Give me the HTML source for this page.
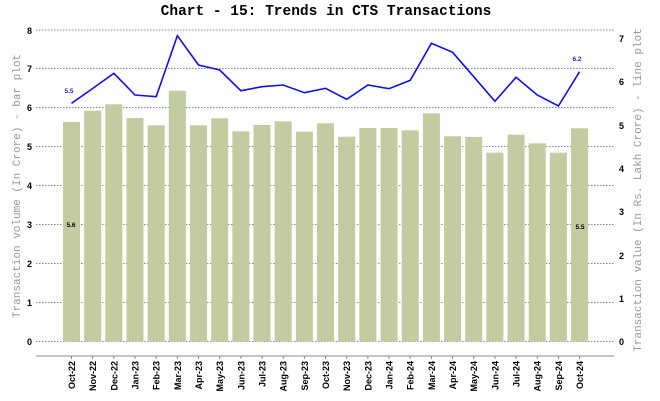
<!DOCTYPE html>
<html><head><style>body{margin:0;background:#fff}svg{display:block}</style></head><body>
<svg width="660" height="401" xmlns="http://www.w3.org/2000/svg">
<text x="326" y="15" text-anchor="middle" font-family="Liberation Mono, monospace" font-weight="bold" font-size="14.5">Chart - 15: Trends in CTS Transactions</text>
<g stroke="#888" stroke-dasharray="1.5,1.5" stroke-width="1">
<line x1="36" x2="614" y1="30" y2="30"/><line x1="36" x2="614" y1="68.5" y2="68.5"/><line x1="36" x2="614" y1="107.5" y2="107.5"/><line x1="36" x2="614" y1="146.5" y2="146.5"/><line x1="36" x2="614" y1="185.5" y2="185.5"/><line x1="36" x2="614" y1="224.5" y2="224.5"/><line x1="36" x2="614" y1="263.5" y2="263.5"/><line x1="36" x2="614" y1="302.5" y2="302.5"/><line x1="36" x2="614" y1="341.5" y2="341.5"/>
</g>
<g font-family="Liberation Sans, sans-serif" font-weight="bold" font-size="9" text-anchor="end">
<text x="32" y="34">8</text><text x="32" y="72">7</text><text x="32" y="111">6</text><text x="32" y="150">5</text><text x="32" y="189">4</text><text x="32" y="228">3</text><text x="32" y="267">2</text><text x="32" y="306">1</text><text x="32" y="345">0</text>
</g>
<g font-family="Liberation Sans, sans-serif" font-weight="bold" font-size="9">
<text x="619" y="42">7</text><text x="619" y="85">6</text><text x="619" y="129">5</text><text x="619" y="172">4</text><text x="619" y="215">3</text><text x="619" y="259">2</text><text x="619" y="302">1</text><text x="619" y="345">0</text>
</g>
<text transform="translate(20,186) rotate(-90)" text-anchor="middle" font-family="Liberation Mono, monospace" font-size="11" fill="#999">Transaction volume (In Crore) - bar plot</text>
<text transform="translate(641,190) rotate(-90)" text-anchor="middle" font-family="Liberation Mono, monospace" font-size="11" fill="#999">Transaction value (In Rs. Lakh Crore) - line plot</text>
<g fill="#c2cca0" id="bars"></g>
<line x1="36" x2="614" y1="356" y2="356" stroke="#888"/>
<g id="ticks" stroke="#888"></g>
<g id="xl" font-family="Liberation Sans, sans-serif" font-weight="bold" font-size="9"></g>
<polyline id="ln" fill="none" stroke="#1010f0" stroke-width="1.6"/>
<g font-family="Liberation Sans, sans-serif" font-weight="bold" font-size="6.5">
<text x="69" y="93" text-anchor="middle" fill="#2020e0">5.5</text>
<text x="577" y="61" text-anchor="middle" fill="#2020e0">6.2</text>
<text x="71" y="227" text-anchor="middle">5.6</text>
<text x="580" y="229" text-anchor="middle">5.5</text>
</g>
<script>
var tops=[122,110.7,104.3,118,125.3,90.7,125.3,118.3,131.3,125,121.3,131.7,123.3,136.7,128,128,130.3,113.3,136.3,137,152.7,134.7,143.3,152.7,128.3];
var ly=[103.3,88.5,73.3,95,96.7,35.7,65,70,90.7,86.7,85,92.7,88.3,99.3,85,88.7,80.3,43.3,52.3,76.7,101.3,77.3,95,106,71.7];
var labs=["Oct-22","Nov-22","Dec-22","Jan-23","Feb-23","Mar-23","Apr-23","May-23","Jun-23","Jul-23","Aug-23","Sep-23","Oct-23","Nov-23","Dec-23","Jan-24","Feb-24","Mar-24","Apr-24","May-24","Jun-24","Jul-24","Aug-24","Sep-24","Oct-24"];
var ns="http://www.w3.org/2000/svg",b=document.getElementById("bars"),t=document.getElementById("ticks"),xl=document.getElementById("xl"),pts=[];
for(var i=0;i<25;i++){var cx=71.5+i*21.17;
var r=document.createElementNS(ns,"rect");r.setAttribute("x",cx-8.5);r.setAttribute("width",17);r.setAttribute("y",tops[i]);r.setAttribute("height",341.5-tops[i]);b.appendChild(r);
var l=document.createElementNS(ns,"line");l.setAttribute("x1",cx);l.setAttribute("x2",cx);l.setAttribute("y1",356);l.setAttribute("y2",359);t.appendChild(l);
var tx=document.createElementNS(ns,"text");tx.setAttribute("transform","translate("+(cx+3.5)+",361) rotate(-90)");tx.setAttribute("text-anchor","end");tx.textContent=labs[i];xl.appendChild(tx);
pts.push(cx+","+ly[i]);}
document.getElementById("ln").setAttribute("points",pts.join(" "));
</script>
</svg>
</body></html>
